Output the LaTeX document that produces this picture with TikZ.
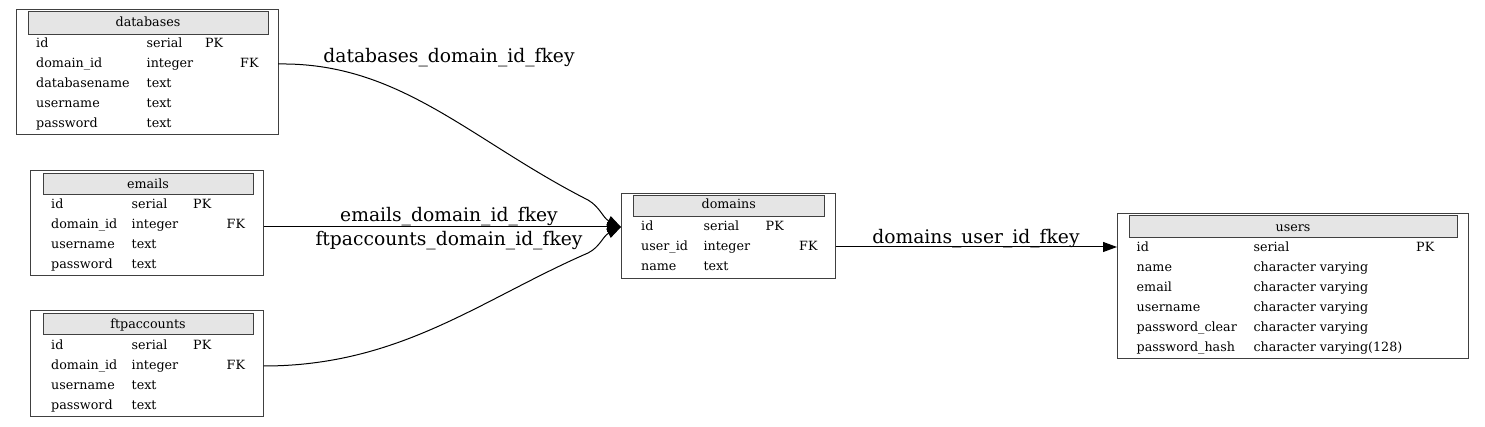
\documentclass[tikz,border=0pt]{standalone}
\usepackage{fontspec}
\setmainfont{DejaVu Serif}
\usetikzlibrary{arrows.meta}
\begin{document}
\begin{tikzpicture}[x=1pt,y=-1pt,
  tbl/.style={draw=black!75,line width=1pt,fill=white},
  hdr/.style={draw=black!75,line width=1pt,fill=black!10},
  cell/.style={anchor=base west,inner sep=0pt,font=\fontsize{12.7}{15}\selectfont},
  htxt/.style={anchor=base,inner sep=0pt,font=\fontsize{12.7}{15}\selectfont},
  elabel/.style={anchor=base,inner sep=0pt,font=\fontsize{18.7}{22}\selectfont},
  fk/.style={line width=1pt,-{Triangle[length=14pt,width=10pt]}}]
\useasboundingbox (0,0) rectangle (1485,427);
% databases
\draw[tbl] (16,10) rectangle (278,135);
\draw[hdr] (28.5,12) rectangle (268,34.3);
\node[htxt] (dbh) at (148,27) {databases};
\node[cell] (db1a) at (36,48) {id};
\node[cell] (db1b) at (146.5,48) {serial};
\node[cell] (db1c) at (205,48) {PK};
\node[cell] (db2a) at (36,68) {domain\_id};
\node[cell] (db2b) at (146.5,68) {integer};
\node[cell] (db2c) at (240,68) {FK};
\node[cell] (db3a) at (36,88) {databasename};
\node[cell] (db3b) at (146.5,88) {text};
\node[cell] (db4a) at (36,108) {username};
\node[cell] (db4b) at (146.5,108) {text};
\node[cell] (db5a) at (36,128) {password};
\node[cell] (db5b) at (146.5,128) {text};
\coordinate (dbout) at (278,64);
% emails
\draw[tbl] (30.5,171) rectangle (263.5,276);
\draw[hdr] (43.3,173.3) rectangle (253,195);
\node[htxt] (emh) at (148,188.5) {emails};
\node[cell] (em1a) at (51,209) {id};
\node[cell] (em1b) at (131.5,209) {serial};
\node[cell] (em1c) at (193,209) {PK};
\node[cell] (em2a) at (51,229) {domain\_id};
\node[cell] (em2b) at (131.5,229) {integer};
\node[cell] (em2c) at (226.5,229) {FK};
\node[cell] (em3a) at (51,249) {username};
\node[cell] (em3b) at (131.5,249) {text};
\node[cell] (em4a) at (51,269) {password};
\node[cell] (em4b) at (131.5,269) {text};
\coordinate (emout) at (263.5,227);
% ftpaccounts
\draw[tbl] (30.5,311) rectangle (263.5,416);
\draw[hdr] (43.3,313.3) rectangle (253,335);
\node[htxt] (fth) at (148,328.5) {ftpaccounts};
\node[cell] (ft1a) at (51,349) {id};
\node[cell] (ft1b) at (131.5,349) {serial};
\node[cell] (ft1c) at (193,349) {PK};
\node[cell] (ft2a) at (51,369) {domain\_id};
\node[cell] (ft2b) at (131.5,369) {integer};
\node[cell] (ft2c) at (226.5,369) {FK};
\node[cell] (ft3a) at (51,389) {username};
\node[cell] (ft3b) at (131.5,389) {text};
\node[cell] (ft4a) at (51,409) {password};
\node[cell] (ft4b) at (131.5,409) {text};
\coordinate (ftout) at (263.5,366);
% domains
\draw[tbl] (621,193.5) rectangle (835.5,278.5);
\draw[hdr] (633.5,195.3) rectangle (824,217);
\node[htxt] (doh) at (728.7,209) {domains};
\node[cell] (do1a) at (641,231) {id};
\node[cell] (do1b) at (703.3,231) {serial};
\node[cell] (do1c) at (765.5,231) {PK};
\node[cell] (do2a) at (641,251) {user\_id};
\node[cell] (do2b) at (703.3,251) {integer};
\node[cell] (do2c) at (799,251) {FK};
\node[cell] (do3a) at (641,271) {name};
\node[cell] (do3b) at (703.3,271) {text};
\coordinate (doin) at (621,227);
\coordinate (doout) at (835.5,247);
% users
\draw[tbl] (1117,213.5) rectangle (1468.5,358);
\draw[hdr] (1129,215.3) rectangle (1457.5,238);
\node[htxt] (ush) at (1293,231.5) {users};
\node[cell] (us1a) at (1136.5,252) {id};
\node[cell] (us1b) at (1253.3,252) {serial};
\node[cell] (us1c) at (1416,252) {PK};
\node[cell] (us2a) at (1136.5,272) {name};
\node[cell] (us2b) at (1253.3,272) {character varying};
\node[cell] (us3a) at (1136.5,292) {email};
\node[cell] (us3b) at (1253.3,292) {character varying};
\node[cell] (us4a) at (1136.5,312) {username};
\node[cell] (us4b) at (1253.3,312) {character varying};
\node[cell] (us5a) at (1136.5,332) {password\_clear};
\node[cell] (us5b) at (1253.3,332) {character varying};
\node[cell] (us6a) at (1136.5,352) {password\_hash};
\node[cell] (us6b) at (1253.3,352) {character varying(128)};
\coordinate (usin) at (1117,247);
% edges
\draw[fk] (dbout) .. controls (400,62) and (470,140) .. (588,200) .. controls (600,207) and (603,218) .. (doin);
\draw[fk] (emout) -- (doin);
\draw[fk] (ftout) .. controls (400,366) and (480,300) .. (588,253) .. controls (600,247) and (603,236) .. (doin);
\draw[fk] (doout) -- (usin);
\node[elabel] (l1) at (449,63) {databases\_domain\_id\_fkey};
\node[elabel] (l2) at (449,221.5) {emails\_domain\_id\_fkey};
\node[elabel] (l3) at (449,246) {ftpaccounts\_domain\_id\_fkey};
\node[elabel] (l4) at (976,244) {domains\_user\_id\_fkey};
\end{tikzpicture}
\end{document}
